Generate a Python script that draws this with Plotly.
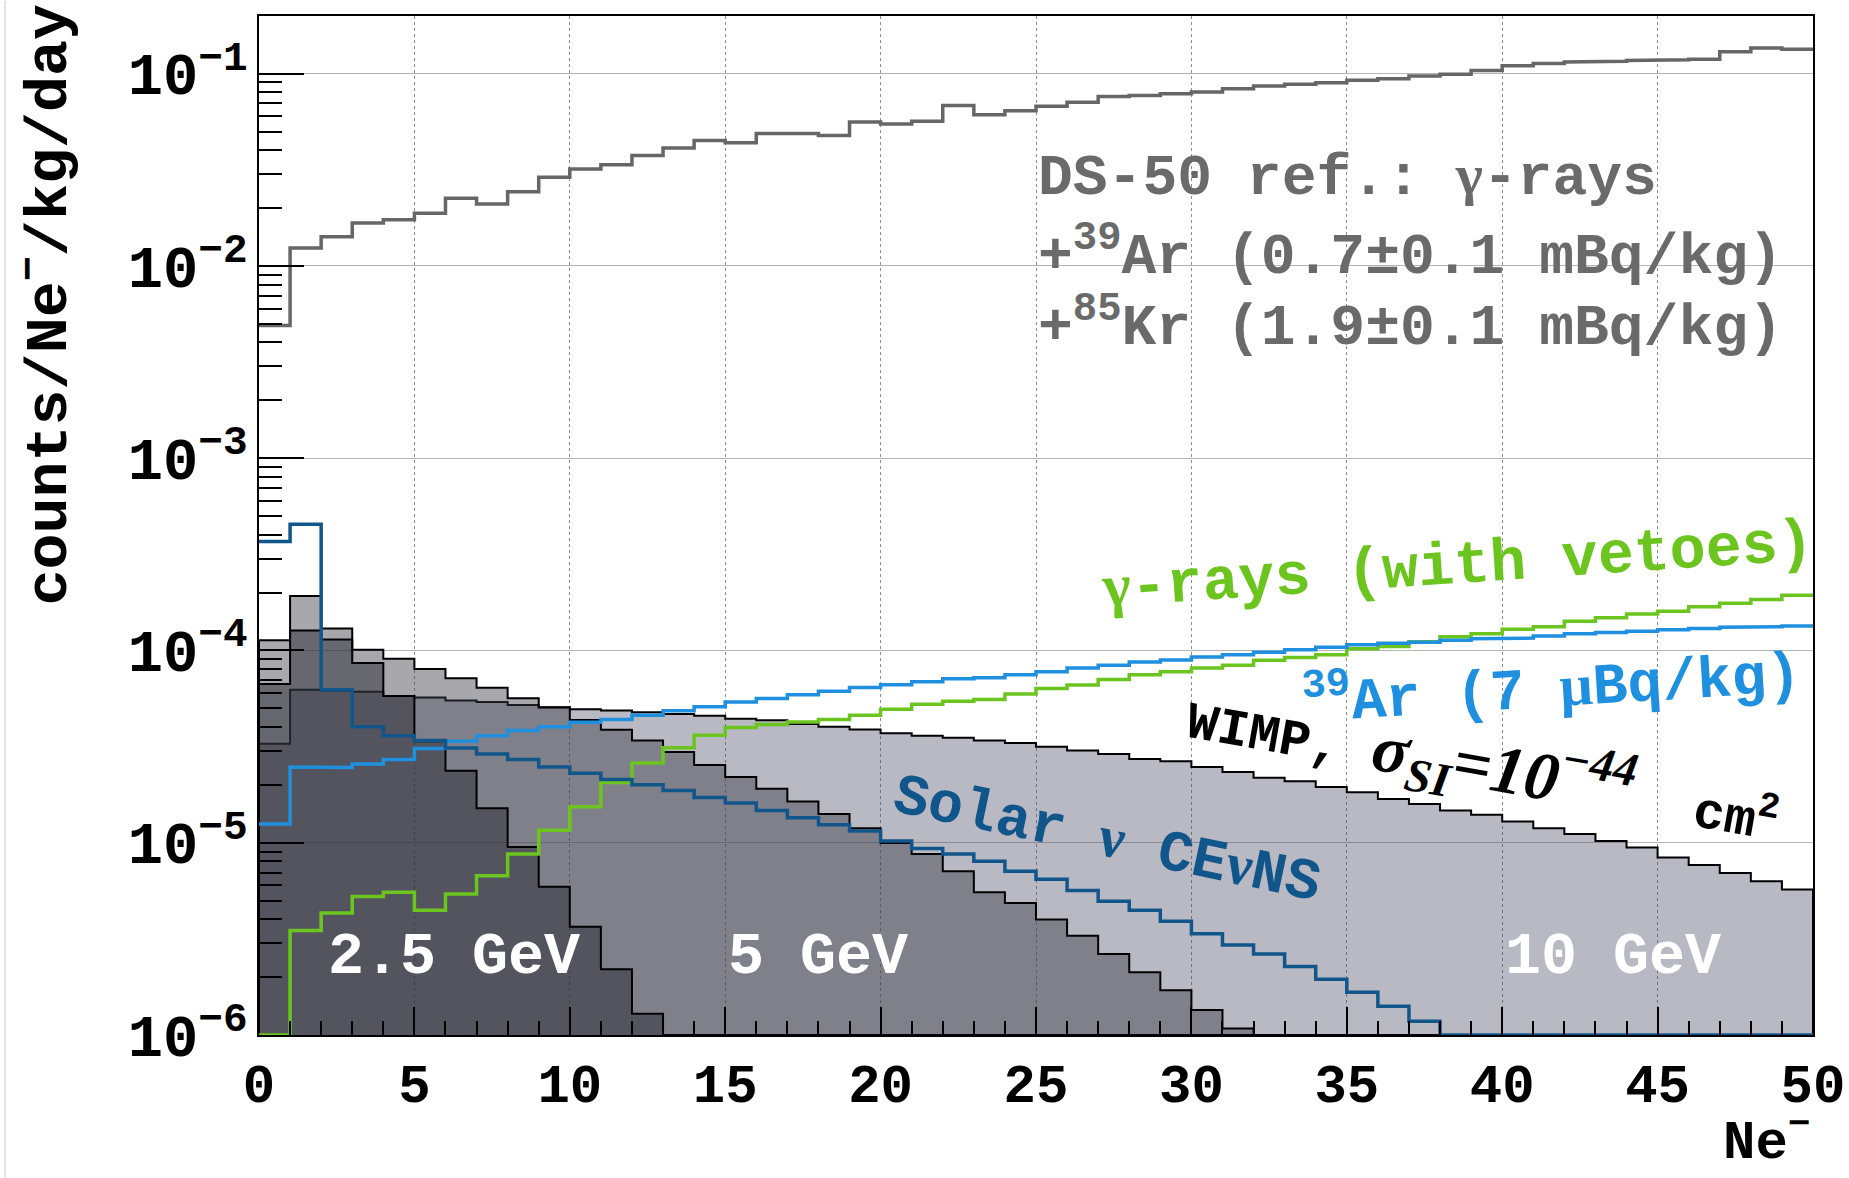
import numpy as np
import plotly.graph_objects as go

# ---- binning: one bin per extracted electron, 0..50 Ne- ----
ne_edges = list(range(0, 51))

# DS-50 reference background (gamma + 39Ar + 85Kr), counts/Ne-/kg/day
ds50_ref = [4.90e-3, 1.24e-2, 1.42e-2, 1.67e-2, 1.74e-2, 1.88e-2, 2.25e-2, 2.10e-2, 2.43e-2, 2.89e-2,
            3.19e-2, 3.36e-2, 3.75e-2, 4.11e-2, 4.49e-2, 4.37e-2, 4.89e-2, 4.89e-2, 4.77e-2, 5.60e-2,
            5.48e-2, 5.66e-2, 6.84e-2, 6.11e-2, 6.41e-2, 6.78e-2, 7.11e-2, 7.61e-2, 7.71e-2, 7.87e-2,
            8.02e-2, 8.35e-2, 8.63e-2, 8.80e-2, 8.98e-2, 9.23e-2, 9.42e-2, 9.72e-2, 9.92e-2, 0.104,
            0.110, 0.113, 0.115, 0.116, 0.117, 0.118, 0.119, 0.130, 0.136, 0.134]

# WIMP spectra, sigma_SI = 1e-44 cm2
wimp_10gev = [3.27e-5, 6.25e-5, 6.20e-5, 6.10e-5, 5.80e-5, 5.70e-5, 5.50e-5, 5.40e-5, 5.20e-5, 5.05e-5,
              4.95e-5, 4.87e-5, 4.77e-5, 4.67e-5, 4.57e-5, 4.41e-5, 4.34e-5, 4.15e-5, 4.01e-5, 3.88e-5,
              3.71e-5, 3.60e-5, 3.52e-5, 3.40e-5, 3.30e-5, 3.16e-5, 3.02e-5, 2.89e-5, 2.73e-5, 2.65e-5,
              2.48e-5, 2.33e-5, 2.18e-5, 2.09e-5, 1.95e-5, 1.83e-5, 1.69e-5, 1.59e-5, 1.47e-5, 1.40e-5,
              1.29e-5, 1.19e-5, 1.11e-5, 1.02e-5, 9.45e-6, 8.37e-6, 7.67e-6, 6.97e-6, 6.30e-6, 5.71e-6]

wimp_5gev = [1.13e-4, 1.92e-4, 1.30e-4, 1.01e-4, 9.06e-5, 8.00e-5, 7.17e-5, 6.39e-5, 5.65e-5, 5.06e-5,
             4.35e-5, 3.87e-5, 3.40e-5, 2.96e-5, 2.54e-5, 2.20e-5, 1.91e-5, 1.64e-5, 1.41e-5, 1.19e-5,
             9.96e-6, 8.73e-6, 7.10e-6, 5.53e-6, 4.86e-6, 3.99e-6, 3.28e-6, 2.64e-6, 2.12e-6, 1.71e-6,
             1.35e-6, 1.08e-6, 0, 0, 0, 0, 0, 0, 0, 0,
             0, 0, 0, 0, 0, 0, 0, 0, 0, 0]

wimp_2p5gev = [6.70e-5, 1.27e-4, 1.14e-4, 8.60e-5, 5.80e-5, 3.37e-5, 2.37e-5, 1.51e-5, 9.50e-6, 5.90e-6,
               3.66e-6, 2.20e-6, 1.29e-6, 0, 0, 0, 0, 0, 0, 0,
               0, 0, 0, 0, 0, 0, 0, 0, 0, 0,
               0, 0, 0, 0, 0, 0, 0, 0, 0, 0,
               0, 0, 0, 0, 0, 0, 0, 0, 0, 0]

# Solar neutrino CEvNS
solar_cevns = [3.69e-4, 4.53e-4, 6.25e-5, 4.01e-5, 3.60e-5, 3.40e-5, 3.11e-5, 2.89e-5, 2.71e-5, 2.48e-5,
               2.30e-5, 2.13e-5, 2.00e-5, 1.87e-5, 1.72e-5, 1.61e-5, 1.47e-5, 1.35e-5, 1.24e-5, 1.15e-5,
               1.02e-5, 9.33e-6, 8.73e-6, 8.02e-6, 7.10e-6, 6.45e-6, 5.65e-6, 4.96e-6, 4.45e-6, 3.91e-6,
               3.36e-6, 2.94e-6, 2.64e-6, 2.27e-6, 1.95e-6, 1.67e-6, 1.41e-6, 1.18e-6, 0, 0,
               0, 0, 0, 0, 0, 0, 0, 0, 0, 0]

# 39Ar at 7 uBq/kg
ar39_ug = [1.25e-5, 2.48e-5, 2.46e-5, 2.57e-5, 2.71e-5, 3.09e-5, 3.37e-5, 3.60e-5, 3.84e-5, 4.01e-5,
           4.23e-5, 4.37e-5, 4.61e-5, 4.86e-5, 5.09e-5, 5.39e-5, 5.63e-5, 5.88e-5, 6.14e-5, 6.41e-5,
           6.64e-5, 6.88e-5, 7.13e-5, 7.21e-5, 7.47e-5, 7.76e-5, 8.11e-5, 8.39e-5, 8.70e-5, 8.93e-5,
           9.25e-5, 9.49e-5, 9.79e-5, 1.01e-4, 1.04e-4, 1.07e-4, 1.09e-4, 1.105e-4, 1.13e-4, 1.15e-4,
           1.16e-4, 1.19e-4, 1.22e-4, 1.24e-4, 1.26e-4, 1.28e-4, 1.30e-4, 1.32e-4, 1.33e-4, 1.34e-4]

# gamma-rays after vetoes
gamma_veto = [0, 3.50e-6, 4.31e-6, 5.25e-6, 5.53e-6, 4.45e-6, 5.41e-6, 6.73e-6, 8.73e-6, 1.16e-5,
              1.54e-5, 2.06e-5, 2.60e-5, 3.12e-5, 3.62e-5, 3.98e-5, 4.12e-5, 4.25e-5, 4.37e-5, 4.61e-5,
              4.94e-5, 5.25e-5, 5.45e-5, 5.56e-5, 5.93e-5, 6.34e-5, 6.61e-5, 7.06e-5, 7.47e-5, 7.76e-5,
              8.11e-5, 8.39e-5, 8.89e-5, 9.20e-5, 9.49e-5, 1.02e-4, 1.05e-4, 1.11e-4, 1.18e-4, 1.22e-4,
              1.29e-4, 1.33e-4, 1.42e-4, 1.48e-4, 1.55e-4, 1.60e-4, 1.69e-4, 1.76e-4, 1.84e-4, 1.94e-4]

Y_MIN, Y_MAX = 1e-6, 10 ** -0.7
MONO = "Liberation Mono"
SERIF = "Liberation Serif"


def steps(values):
    """Histogram outline: empty bins sit on the frame floor."""
    v = np.maximum(np.asarray(values, float), Y_MIN)
    e = np.asarray(ne_edges, float)
    return np.repeat(e, 2)[1:-1], np.repeat(v, 2)


def filled(values, fill, name):
    x, y = steps(values)
    x = np.concatenate([[ne_edges[0]], x, [ne_edges[-1]]])
    y = np.concatenate([[Y_MIN], y, [Y_MIN]])
    return go.Scatter(x=x, y=y, mode="lines", fill="toself", fillcolor=fill,
                      line=dict(color="black", width=2), name=name, hoverinfo="skip")


def outline(values, color, width, name):
    x, y = steps(values)
    return go.Scatter(x=x, y=y, mode="lines", line=dict(color=color, width=width),
                      name=name, hoverinfo="skip")


fig = go.Figure()
fig.add_trace(filled(wimp_10gev, "rgba(72,72,100,0.38)", "WIMP 10 GeV"))
fig.add_trace(filled(wimp_5gev, "rgba(60,60,72,0.45)", "WIMP 5 GeV"))
fig.add_trace(filled(wimp_2p5gev, "rgba(40,40,50,0.50)", "WIMP 2.5 GeV"))
fig.add_trace(outline(gamma_veto, "#6cc51e", 3.5, "gamma (vetoed)"))
fig.add_trace(outline(ar39_ug, "#1f90e0", 3.5, "39Ar UAr"))
fig.add_trace(outline(solar_cevns, "#11568a", 3.5, "Solar CEvNS"))
fig.add_trace(outline(ds50_ref, "#666666", 3.5, "DS-50 ref"))

ann = []


def greek(ch):
    return f'<span style="font-family:{SERIF}">{ch}</span>'


def label(text, x, y, size, color, angle=0, bold=True, xanchor="center"):
    ann.append(dict(text=text, x=x, y=y, xref="x", yref="y", showarrow=False,
                    xanchor=xanchor, yanchor="middle", textangle=angle,
                    font=dict(family=MONO, size=size, color=color,
                              weight="bold" if bold else "normal")))


gray = "#6a6a6a"
label(f"DS-50 ref.: {greek('γ')}-rays", 25.0, -1.535, 58, gray, xanchor="left")
label("+<sup>39</sup>Ar (0.7±0.1 mBq/kg)", 25.0, -1.93, 58, gray, xanchor="left")
label("+<sup>85</sup>Kr (1.9±0.1 mBq/kg)", 25.0, -2.30, 58, gray, xanchor="left")

label(f"{greek('γ')}-rays (with vetoes)", 38.55, -3.56, 60, "#6cc51e", angle=-3.8)
label(f"<sup>39</sup>Ar (7 {greek('μ')}Bq/kg)", 41.6, -4.18, 58, "#1f90e0", angle=-3.5)
label('WIMP, <span style="font-family:Liberation Serif;font-style:italic;font-size:68px">'
      'σ<sub>SI</sub>=10<sup>−44</sup></span>  cm<sup>2</sup>',
      39.4, -4.60, 52, "black", angle=10)
label(f"Solar {greek('ν')} CE{greek('ν')}NS", 27.3, -4.98, 58, "#11568a", angle=12)

label("2.5 GeV", 6.26, -5.593, 60, "white")
label("5 GeV", 17.97, -5.593, 60, "white")
label("10 GeV", 43.58, -5.593, 60, "white")

# axis titles
ann.append(dict(text="counts/Ne<sup>−</sup>/kg/day", xref="paper", yref="paper",
                x=-0.1377, y=0.716, showarrow=False, textangle=-90,
                xanchor="center", yanchor="middle",
                font=dict(family=MONO, size=60, color="black", weight="bold")))
ann.append(dict(text="Ne<sup>−</sup>", xref="paper", yref="paper",
                x=1.0, y=-0.1385, showarrow=False, xanchor="right", yanchor="bottom",
                font=dict(family=MONO, size=54, color="black", weight="bold")))

fig.update_layout(
    width=1849, height=1178,
    margin=dict(l=259, r=36, t=16, b=143),
    paper_bgcolor="white", plot_bgcolor="white",
    showlegend=False,
    annotations=ann,
    shapes=[dict(type="line", xref="paper", yref="paper",
                 x0=-0.1634, x1=-0.1634, y0=-0.14, y1=1.015,
                 line=dict(color="#e2e2e2", width=2))],
    xaxis=dict(range=[0, 50], tickmode="linear", tick0=0, dtick=5, automargin=False,
               ticks="inside", ticklen=28, tickwidth=2, tickcolor="black",
               minor=dict(ticks="inside", ticklen=14, tickwidth=2, tickcolor="black",
                          dtick=1, showgrid=False),
               showgrid=True, gridcolor="#8c8c8c", gridwidth=1, griddash="dot",
               showline=True, linecolor="black", linewidth=2, mirror=True,
               tickfont=dict(family=MONO, size=54, color="black", weight="bold"),
               zeroline=False),
    yaxis=dict(type="log", range=[np.log10(Y_MIN), np.log10(Y_MAX)], dtick=1, automargin=False,
               exponentformat="power", showexponent="all",
               ticks="inside", ticklen=45, tickwidth=2, tickcolor="black",
               minor=dict(ticks="inside", ticklen=23, tickwidth=2, tickcolor="black",
                          showgrid=False),
               showgrid=True, gridcolor="#b4b4b4", gridwidth=1,
               showline=True, linecolor="black", linewidth=2, mirror=True,
               tickfont=dict(family=MONO, size=47, color="black", weight="bold"),
               zeroline=False),
)

fig.write_html("out.html")
